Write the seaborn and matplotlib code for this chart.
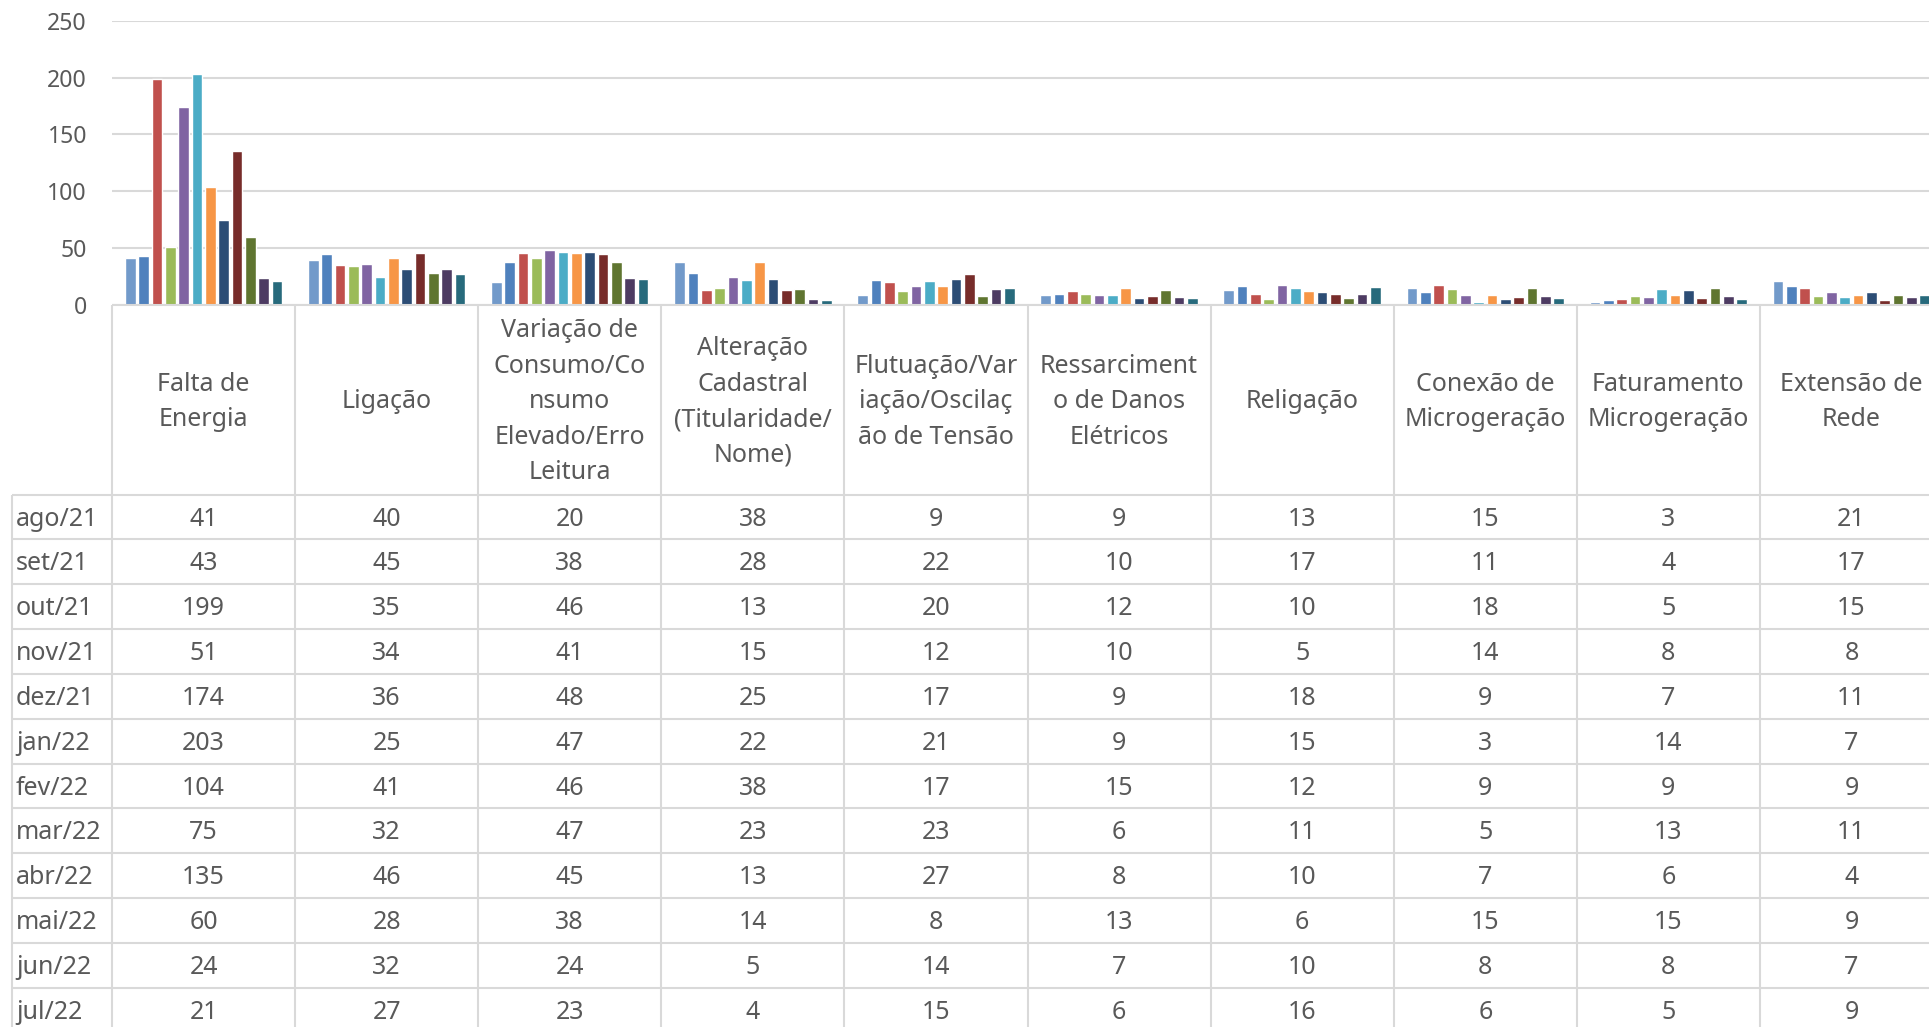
import numpy as np
import pandas as pd
import seaborn as sns
import matplotlib.pyplot as plt

meses = ["ago/21", "set/21", "out/21", "nov/21", "dez/21", "jan/22",
         "fev/22", "mar/22", "abr/22", "mai/22", "jun/22", "jul/22"]

categorias = ["Falta de Energia", "Ligação",
              "Variação de Consumo/Consumo Elevado/Erro Leitura",
              "Alteração Cadastral (Titularidade/Nome)",
              "Flutuação/Variação/Oscilação de Tensão",
              "Ressarcimento de Danos Elétricos", "Religação",
              "Conexão de Microgeração", "Faturamento Microgeração",
              "Extensão de Rede"]

# cabeçalhos quebrados como na tabela do Excel
cabecalhos = ["Falta de\nEnergia", "Ligação",
              "Variação de\nConsumo/Co\nnsumo\nElevado/Erro\nLeitura",
              "Alteração\nCadastral\n(Titularidade/\nNome)",
              "Flutuação/Var\niação/Oscilaç\não de Tensão",
              "Ressarciment\no de Danos\nElétricos", "Religação",
              "Conexão de\nMicrogeração", "Faturamento\nMicrogeração",
              "Extensão de\nRede"]

falta_energia = [41, 43, 199, 51, 174, 203, 104, 75, 135, 60, 24, 21]
ligacao = [40, 45, 35, 34, 36, 25, 41, 32, 46, 28, 32, 27]
variacao_consumo = [20, 38, 46, 41, 48, 47, 46, 47, 45, 38, 24, 23]
alteracao_cadastral = [38, 28, 13, 15, 25, 22, 38, 23, 13, 14, 5, 4]
flutuacao_tensao = [9, 22, 20, 12, 17, 21, 17, 23, 27, 8, 14, 15]
ressarcimento = [9, 10, 12, 10, 9, 9, 15, 6, 8, 13, 7, 6]
religacao = [13, 17, 10, 5, 18, 15, 12, 11, 10, 6, 10, 16]
conexao_microgeracao = [15, 11, 18, 14, 9, 3, 9, 5, 7, 15, 8, 6]
faturamento_microgeracao = [3, 4, 5, 8, 7, 14, 9, 13, 6, 15, 8, 5]
extensao_rede = [21, 17, 15, 8, 11, 7, 9, 11, 4, 9, 7, 9]

valores = [falta_energia, ligacao, variacao_consumo, alteracao_cadastral,
           flutuacao_tensao, ressarcimento, religacao, conexao_microgeracao,
           faturamento_microgeracao, extensao_rede]

cores = ["#729ACA", "#4F81BD", "#C0504D", "#9BBB59", "#8064A2", "#4BACC6",
         "#F79646", "#2C4D75", "#772C2A", "#5F7530", "#4D3B62", "#276A7C"]

cinza_texto = "#595959"
cinza_linha = "#D9D9D9"

sns.set_theme(style="white")
plt.rcParams['font.family'] = ['Noto Sans', 'DejaVu Sans']

df = pd.DataFrame({
    "categoria": np.repeat(categorias, len(meses)),
    "mes": meses * len(categorias),
    "valor": np.concatenate(valores),
})

W, H = 1929, 1027
x0, cw = 112, 183.1          # inicio e largura das colunas (px)
y_top, y_zero = 20.7, 305    # linha do 250 e do 0 (px)
row_top, rh = 494.6, 44.84   # tabela de dados
dy = 2                       # ajuste vertical do texto

fig = plt.figure(figsize=(W / 100, H / 100), dpi=100)
ax = fig.add_axes([x0 / W, 1 - y_zero / H, len(categorias) * cw / W, (y_zero - y_top) / H])

sns.barplot(data=df, x="categoria", y="valor", hue="mes", palette=cores,
            width=0.874, gap=0.2, saturation=1, errorbar=None,
            legend=False, ax=ax)

ax.set_xlim(-0.5, len(categorias) - 0.5)
ax.set_ylim(0, 250)
ax.set_yticks(range(0, 251, 50))
ax.grid(axis="y", color=cinza_linha, linewidth=1.5)
ax.set_axisbelow(True)
for s in ax.spines.values():
    s.set_visible(False)
ax.set_xticks([])
ax.set_xlabel("")
ax.set_ylabel("")
ax.tick_params(axis="y", length=0, pad=18, labelsize=16.6, labelcolor=cinza_texto)

# tabela de dados embaixo do grafico
tax = fig.add_axes([0, 0, 1, 1])
tax.set_xlim(0, W)
tax.set_ylim(H, 0)
tax.axis("off")

bordas_x = x0 + cw * np.arange(len(categorias) + 1)
linhas_y = row_top + rh * np.arange(len(meses) + 1)
tax.hlines(y_zero, x0, W, color=cinza_linha, lw=1.5)
tax.hlines(linhas_y, 12, W, color=cinza_linha, lw=1.5)
tax.vlines(bordas_x, y_zero, H, color=cinza_linha, lw=1.5)
tax.vlines(12, row_top, H, color=cinza_linha, lw=1.5)

fs = 18
for j, cab in enumerate(cabecalhos):
    xc = x0 + cw * (j + 0.5)
    tax.text(xc, (y_zero + row_top) / 2 + dy, cab, ha="center", va="center",
             fontsize=fs, color=cinza_texto, linespacing=1.55)
    for i, v in enumerate(valores[j]):
        tax.text(xc, row_top + rh * (i + 0.5) + dy, str(v), ha="center", va="center",
                 fontsize=fs, color=cinza_texto)

for i, m in enumerate(meses):
    tax.text(16, row_top + rh * (i + 0.5) + dy, m, ha="left", va="center",
             fontsize=fs, color=cinza_texto)

fig.savefig("out.png", dpi=100)
